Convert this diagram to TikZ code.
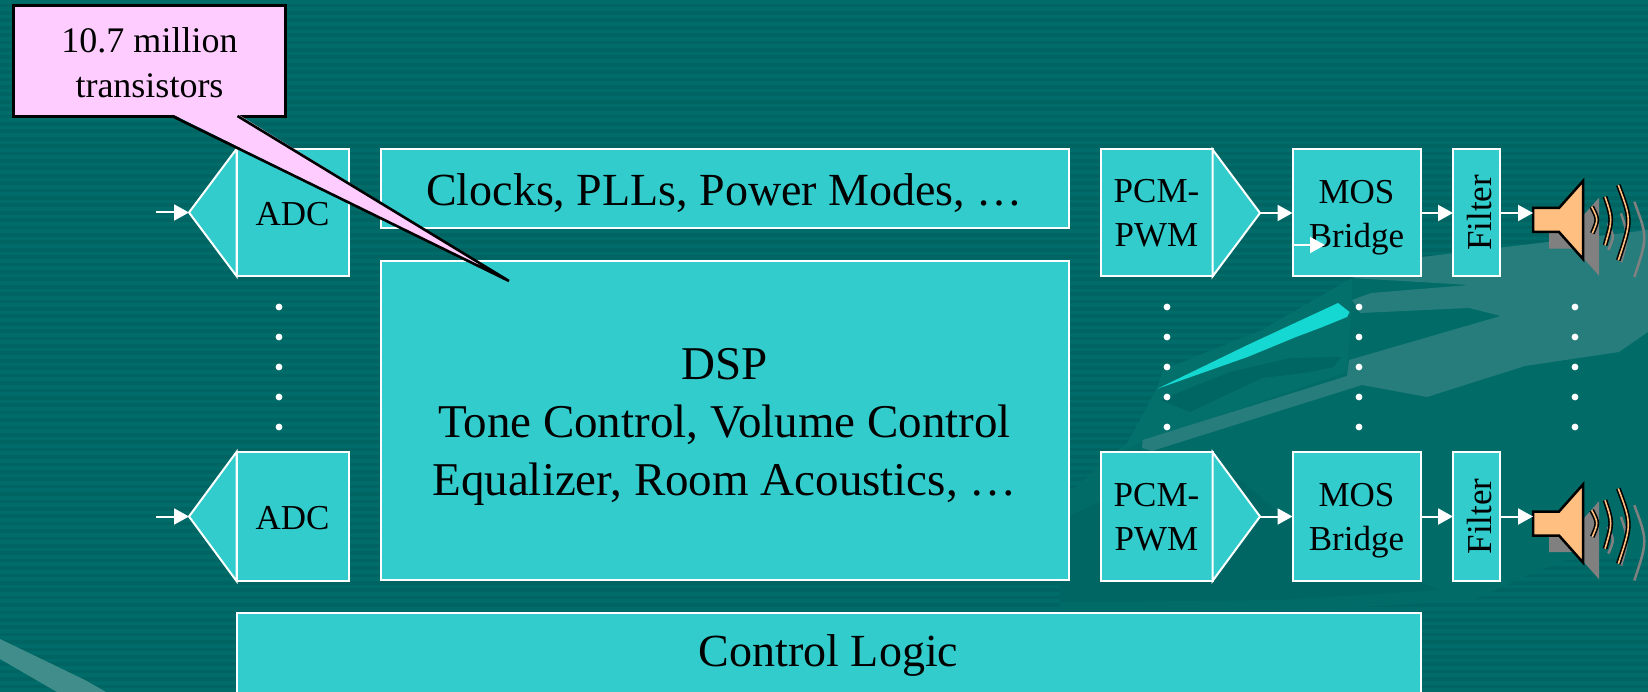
\documentclass[tikz,border=0pt]{standalone}
\usepackage{fontspec}
\setmainfont{Liberation Serif}
\usetikzlibrary{arrows.meta}
\definecolor{bgA}{HTML}{006C69}
\definecolor{bgB}{HTML}{006562}
\definecolor{bgC}{HTML}{006B67}
\definecolor{bgD}{HTML}{006663}
\definecolor{swoosh}{HTML}{267D7B}
\definecolor{swooshB}{HTML}{04706C}
\definecolor{sliver}{HTML}{15D8D2}
\definecolor{boxc}{HTML}{33CCCC}
\definecolor{pinkc}{HTML}{FFCCFF}
\definecolor{horn}{HTML}{FFBF80}
\newcommand{\hgt}[1]{\rule{0pt}{#1pt}}
\tikzset{
  x=1pt,y=-1pt,
  blk/.style={rectangle,draw=white,fill=boxc,line width=2pt,inner sep=0pt,outer sep=0pt,align=center,text=black},
  small/.style={font=\fontsize{35}{44}\selectfont},
  large/.style={font=\fontsize{47}{58}\selectfont},
  medium/.style={font=\fontsize{46}{58}\selectfont},
  unit/.style={blk,small,minimum width=112pt,minimum height=127pt},
  mos/.style={blk,small,minimum width=128pt,minimum height=127pt},
  filt/.style={blk,small,rotate=90,minimum width=127pt,minimum height=47pt,text height=30pt,text depth=0pt},
  point/.style={draw=white,fill=boxc,line width=2pt,line join=miter},
  wire/.style={draw=white,line width=2pt,-{Triangle[length=15pt,width=16pt]}},
  dotw/.style={fill=white},
  speaker/.pic={
    \begin{scope}[shift={(16,16.7)}]
      \fill[black!50] (0,-5)--(26,-5)--(50,-32)--(50,46)--(26,19)--(0,19)--cycle;
      \draw[black!50,line width=2.5pt] (58.7,-6.3) .. controls (65.3,6.5) .. (59.3,20.3);
      \draw[black!50,line width=2.5pt] (72,-16.3) .. controls (79.6,6.3) .. (72,32.3);
      \draw[black!50,line width=2.5pt] (85.3,-28) .. controls (98.6,7.5) .. (85.3,47.3);
    \end{scope}
    \draw[black,line width=2.5pt,fill=horn,line join=miter] (0,-5)--(26,-5)--(50,-32)--(50,46)--(26,19)--(0,19)--cycle;
    \draw[black,line width=1.6pt,double=horn,double distance=1.6pt] (58.7,-6.3) .. controls (65.3,6.5) .. (59.3,20.3);
    \draw[black,line width=1.6pt,double=horn,double distance=1.6pt] (72,-16.3) .. controls (79.6,6.3) .. (72,32.3);
    \draw[black,line width=1.6pt,double=horn,double distance=1.6pt] (85.3,-28) .. controls (98.6,7.5) .. (85.3,47.3);
  }
}
\begin{document}
\begin{tikzpicture}
\useasboundingbox (0,0) rectangle (1648,692);
% background
\fill[bgA] (0,0) rectangle (1648,692);
\foreach \i in {0,...,93} {
  \fill[bgB] (0,{\i*7.4+3.7}) rectangle (1648,{\i*7.4+7.4});
}
% subtle background shapes
\fill[bgC] (1060,500) -- (1128,442) -- (1157,388) -- (1163,370) -- (1262,330) -- (1352,278) -- (1648,230) -- (1648,555)
  -- (1567,560) -- (1533,573) -- (1473,600) -- (1360,607) -- (1270,610) -- (1060,610) -- cycle;
\fill[swooshB] (1352,278) -- (1262,330) -- (1163,370) -- (1157,388) -- (1128,442) -- (1110,457) -- (1142,442) -- (1347,372) -- (1352,300) -- cycle;
\fill[bgD] (1290,358) -- (1341,357) -- (1334,367) -- (1304,373) -- (1262,378) -- (1190,412) -- (1160,400) -- (1230,372) -- cycle;
\fill[bgD] (1060,602) -- (1280,600) -- (1440,590) -- (1300,530) -- (1240,480) -- (1170,470) -- (1060,520) -- cycle;
% swooshes
\fill[swoosh] (1648,230) -- (1422,257) -- (1352,278) -- (1469,285) -- (1371,293) -- (1352,300) -- (1360,313)
  -- (1469,308) -- (1500.6,316) -- (1349,360) -- (1347,376) -- (1142.5,440) -- (1142,448) -- (1152,451)
  -- (1362,385) -- (1427,397) -- (1525,366) -- (1619,352) -- (1648,332) -- cycle;
\fill[swoosh!88!white] (0,639) -- (85,680) -- (106,692) -- (57,692) -- (0,659) -- cycle;
\fill[sliver] (1157.5,388.7) -- (1247.5,345) -- (1338,303) -- (1349.5,312) -- (1347,317) -- (1322.5,327) -- (1296,337) -- (1247.5,357) -- cycle;
% left column
\node[unit] (adc1) at (292.5,212.5) {\hgt{27}ADC};
\node[unit,minimum height=129pt] (adc2) at (292.5,516.5) {\hgt{27}ADC};
\coordinate (atip1) at (189,212.5);
\coordinate (atip2) at (189,516.5);
\coordinate (ain1) at (156,212.5);
\coordinate (ain2) at (156,516.5);
\draw[point] (adc1.north west) -- (atip1) -- (adc1.south west) -- cycle;
\draw[point] (adc2.north west) -- (atip2) -- (adc2.south west) -- cycle;
\draw[wire] (ain1) -- (atip1);
\draw[wire] (ain2) -- (atip2);
% central blocks
\node[blk,medium,minimum width=688pt,minimum height=79pt] (clocks) at (724.5,189) {\hgt{40}Clocks, PLLs, Power Modes, …};
\node[blk,large,minimum width=688pt,minimum height=318pt] (dsp) at (724.5,420.5) {\hgt{45}DSP\\Tone Control, Volume Control\\Equalizer, Room Acoustics, …};
\node[blk,medium,minimum width=1184pt,minimum height=83pt] (ctrl) at (828.5,654.5) {\hgt{33}Control Logic};
% right chains
\node[unit] (pcm1) at (1156.5,213) {\hgt{24}PCM-\\PWM};
\node[unit,minimum height=129pt] (pcm2) at (1156.5,516.5) {\hgt{24}PCM-\\PWM};
\coordinate (ptip1) at (1260,213);
\coordinate (ptip2) at (1260,516.5);
\draw[point] (pcm1.north east) -- (ptip1) -- (pcm1.south east) -- cycle;
\draw[point] (pcm2.north east) -- (ptip2) -- (pcm2.south east) -- cycle;
\node[mos] (mos1) at (1356.5,213) {\hgt{32}MOS\\Bridge};
\node[mos,minimum height=129pt] (mos2) at (1356.5,516.5) {\hgt{32}MOS\\Bridge};
\node[filt] (fil1) at (1476.5,213) {Filter};
\node[filt,minimum width=129pt] (fil2) at (1476.5,516.5) {Filter};
\coordinate (spk1) at (1533,213);
\coordinate (spk2) at (1533,516.5);
\pic at (spk1) {speaker};
\pic at (spk2) {speaker};
\draw[wire] (ptip1) -- (mos1.west);
\draw[wire] (ptip2) -- (mos2.west);
\draw[wire] (mos1.east) -- (fil1.north);
\draw[wire] (mos2.east) -- (fil2.north);
\draw[wire] (fil1.south) -- (spk1);
\draw[wire] (fil2.south) -- (spk2);
\coordinate (sa) at (1293,245);
\coordinate (sb) at (1325,245);
\draw[wire] (sa) -- (sb);
% dots
\foreach \x in {279,1167,1359,1575} \foreach \y in {307,337,367,397,427} {
  \fill[dotw] (\x,\y) circle[radius=3.4];
}
% callout
\node[rectangle,draw=black,fill=pinkc,line width=2.6pt,inner sep=0pt,align=center,font=\fontsize{36}{45}\selectfont,minimum width=272pt,minimum height=111pt] (note) at (149.5,61) {\hgt{29}10.7 million\\transistors};
\coordinate (ta) at (172,116);
\coordinate (tb) at (237.5,116);
\coordinate (tip) at (509,281);
\fill[pinkc] (172,114) -- (tip) -- (237.5,114) -- cycle;
\draw[black,line width=2.6pt,line join=miter] (ta) -- (tip) -- (tb);
\end{tikzpicture}
\end{document}
